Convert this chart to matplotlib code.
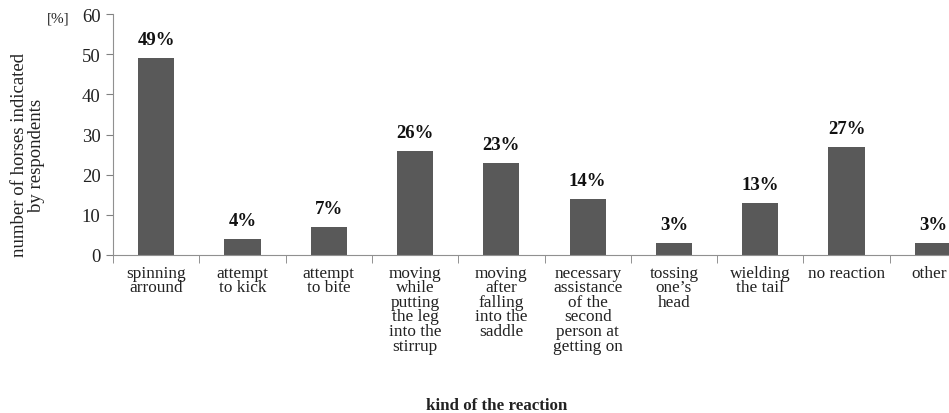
import matplotlib
matplotlib.use("Agg")
import matplotlib.pyplot as plt
import matplotlib.transforms as mtransforms
import numpy as np

categories = [
    "spinning\narround",
    "attempt\nto kick",
    "attempt\nto bite",
    "moving\nwhile\nputting\nthe leg\ninto the\nstirrup",
    "moving\nafter\nfalling\ninto the\nsaddle",
    "necessary\nassistance\nof the\nsecond\nperson at\ngetting on",
    "tossing\none\u2019s\nhead",
    "wielding\nthe tail",
    "no reaction",
    "other",
]
values = [49, 4, 7, 26, 23, 14, 3, 13, 27, 3]
y_ticks = [0, 10, 20, 30, 40, 50, 60]

plt.rcParams["font.family"] = ["Liberation Serif", "DejaVu Serif"]

W, H = 949, 414
fig = plt.figure(figsize=(W / 100, H / 100), dpi=100)
left, right, bottom, top = 113, 976, 256, 15
ax = fig.add_axes([left / W, (H - bottom) / H, (right - left) / W, (bottom - top) / H])

x = np.arange(len(categories))
ax.bar(x, values, width=0.42, color="#595959", zorder=2)

for xi, v in zip(x, values):
    ax.annotate(f"{v}%", (xi, v), xytext=(0, 7), textcoords="offset points",
                ha="center", va="bottom", fontsize=13.5, fontweight="bold",
                color="#111111")

ax.set_xlim(-0.5, len(categories) - 0.5)
ax.set_ylim(0, 60)
ax.set_yticks(y_ticks)
ax.tick_params(axis="y", labelsize=13.5, length=5, color="#808080", pad=4,
               labelcolor="#222222")

ax.set_xticks(x)
ax.set_xticklabels(categories, fontsize=12.4, linespacing=0.88, color="#222222")
ax.tick_params(axis="x", which="major", length=0, pad=7)
ax.set_xticks(np.arange(-0.5, len(categories), 1.0), minor=True)
ax.tick_params(axis="x", which="minor", length=6, color="#808080")

# keep the last category name inside the canvas
last = ax.get_xticklabels()[-1]
last.set_transform(last.get_transform()
                   + mtransforms.ScaledTranslation(-4 / 100, 0, fig.dpi_scale_trans))

for s in ("top", "right"):
    ax.spines[s].set_visible(False)
for s in ("left", "bottom"):
    ax.spines[s].set_color("#909090")

fig.text(58 / W, 1 - 19 / H, "[%]", ha="center", va="center", fontsize=11,
         color="#222222")
fig.text(28 / W, 1 - 155 / H, "number of horses indicated\nby respondents",
         ha="center", va="center", rotation=90, fontsize=13.5, linespacing=1.05,
         color="#222222")
fig.text(497 / W, 1 - 406 / H, "kind of the reaction", ha="center", va="center",
         fontsize=12.2, fontweight="bold", color="#222222")

fig.savefig("out.png", dpi=100)
